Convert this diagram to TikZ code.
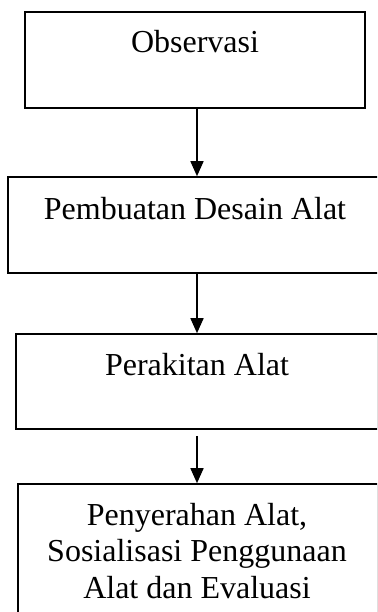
\documentclass[tikz,border=0pt]{standalone}
\usepackage{fontspec}
\setmainfont{Liberation Serif}
\usetikzlibrary{arrows.meta}

\tikzset{
	kotak/.style={draw, line width=1.6pt, inner sep=0pt},
	teks/.style={anchor=base, align=center, inner sep=0pt, font=\fontsize{32pt}{36.5pt}\selectfont},
	panah/.style={line width=1.6pt, -{Triangle[width=13pt,length=15pt]}}
}

\begin{document}
\begin{tikzpicture}[x=1pt,y=1pt]
		\useasboundingbox (0,0) rectangle (377,-612);
		\clip (0,0) rectangle (377,-612);
		\coordinate (kolom) at (197,0);
		\node (obs) at (195,-60) [kotak, minimum width=340pt, minimum height=96pt] {};
		\node (desain) at (195,-225) [kotak, minimum width=374pt, minimum height=96pt] {};
		\node (rakit) at (197,-381.5) [kotak, minimum width=362pt, minimum height=95pt] {};
		\node (serah) at (198,-552) [kotak, minimum width=360pt, minimum height=136pt] {};
		\node (tobs) at (195,-53) [teks] {Observasi};
		\node (tdesain) at (195,-219) [teks] {Pembuatan Desain Alat};
		\node (trakit) at (197,-375) [teks] {Perakitan Alat};
		% base of a three-line node sits on its last line
		\node (tserah) at (197,-598) [teks] {Penyerahan Alat,\\ Sosialisasi Penggunaan\\ Alat dan Evaluasi};
		\coordinate (mulai) at ([yshift=-6pt]rakit.south -| kolom);
		\draw[panah] (obs.south -| kolom) -- (desain.north -| kolom);
		\draw[panah] (desain.south -| kolom) -- (rakit.north -| kolom);
		\draw[panah] (mulai) -- (serah.north -| kolom);
	\end{tikzpicture}
\end{document}
